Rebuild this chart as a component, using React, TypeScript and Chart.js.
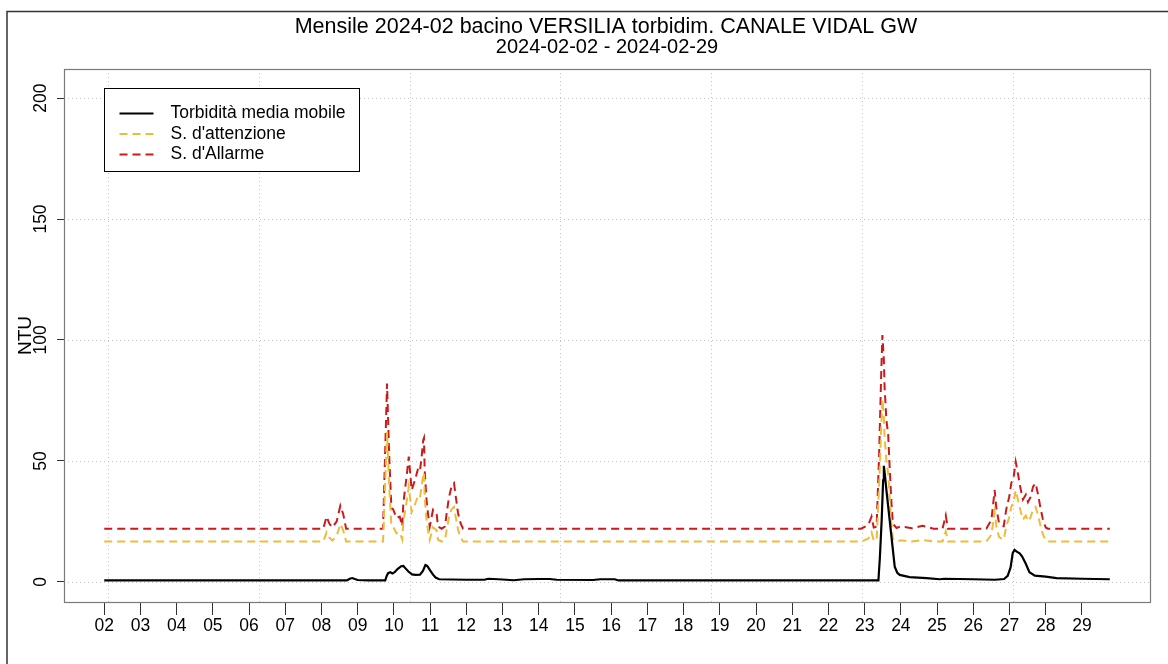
import React, { useEffect, useRef } from 'react';
import { Chart, registerables } from 'chart.js';

Chart.register(...registerables);

const FONT = '"Liberation Sans", Arial, Helvetica, sans-serif';

const titleMain = 'Mensile 2024-02 bacino VERSILIA torbidim. CANALE VIDAL GW';
const titleSub = '2024-02-02 - 2024-02-29';
const yAxisTitle = 'NTU';
const seriesNames = ['Torbidità media mobile', "S. d'attenzione", "S. d'Allarme"];

const dayTicks = [2, 3, 4, 5, 6, 7, 8, 9, 10, 11, 12, 13, 14, 15, 16, 17, 18, 19, 20, 21, 22, 23, 24, 25, 26, 27, 28, 29];
const dayLabels = ['02', '03', '04', '05', '06', '07', '08', '09', '10', '11', '12', '13', '14', '15', '16', '17', '18', '19', '20', '21', '22', '23', '24', '25', '26', '27', '28', '29'];
const yTicks = [0, 50, 100, 150, 200];
const gridDays = [2.1, 6.267, 10.433, 14.6, 18.767, 22.933, 27.1];

const turbDays = [
  2.0, 8.70, 8.78, 8.85, 8.92, 9.00, 9.30, 9.76, 9.80, 9.84,
  9.90, 9.96, 10.02, 10.10, 10.20, 10.26, 10.32, 10.40, 10.50, 10.60,
  10.72, 10.80, 10.87, 10.92, 10.99, 11.08, 11.15, 11.25, 11.60, 12.00,
  12.50, 12.60, 12.75, 13.00, 13.30, 13.60, 14.00, 14.30, 14.50, 15.50,
  15.70, 16.10, 16.20, 23.38, 23.42, 23.47, 23.51, 23.53, 23.56, 23.60,
  23.69, 23.77, 23.83, 23.90, 23.97, 24.24, 24.71, 25.07, 25.20, 25.60,
  26.00, 26.60, 26.85, 26.95, 27.03, 27.09, 27.14, 27.20, 27.28, 27.35,
  27.45, 27.55, 27.70, 28.00, 28.30, 29.00, 29.77,
];
const turbValues = [
  0.6, 0.6, 1.3, 1.6, 1.2, 0.8, 0.6, 0.6, 2.5, 3.6,
  4.0, 3.5, 4.0, 5.3, 6.5, 6.6, 5.6, 4.3, 3.1, 2.9,
  3.0, 4.5, 7.0, 6.6, 5.0, 3.0, 1.8, 1.1, 1.0, 0.9,
  0.9, 1.3, 1.2, 1.0, 0.7, 1.1, 1.2, 1.2, 0.9, 0.8,
  1.1, 1.1, 0.6, 0.6, 10.0, 25.6, 42.0, 48.0, 44.0, 38.0,
  25.6, 14.6, 6.3, 3.8, 2.9, 2.0, 1.6, 1.1, 1.3, 1.2,
  1.1, 0.9, 1.2, 2.5, 6.0, 12.0, 13.2, 12.5, 11.8, 10.5,
  7.5, 4.0, 2.6, 2.2, 1.6, 1.3, 1.1,
];

const thrDays = [
  2.00, 8.05, 8.14, 8.22, 8.30, 8.42, 8.52, 8.60, 8.68,
  9.70, 9.81, 9.84, 9.87, 9.91, 9.93, 9.98, 10.07, 10.16, 10.23,
  10.26, 10.35, 10.41, 10.46, 10.49, 10.58, 10.67, 10.72, 10.76, 10.81,
  10.83, 10.85, 10.90, 10.95, 10.99, 11.08, 11.18, 11.22, 11.32, 11.41,
  11.47, 11.52, 11.59, 11.66, 11.71, 11.77, 11.84, 11.91,
  22.90, 23.10, 23.19, 23.25, 23.33, 23.40, 23.46, 23.49, 23.53, 23.55,
  23.60, 23.65, 23.69, 23.74, 23.78, 23.88, 24.00, 24.30, 24.60, 24.90,
  25.15, 25.24, 25.30,
  26.36, 26.50, 26.54, 26.59, 26.64, 26.71, 26.78, 26.84,
  26.91, 26.99, 27.05, 27.12, 27.17, 27.23, 27.30, 27.37, 27.45, 27.51,
  27.58, 27.65, 27.72, 27.79, 27.85, 27.92, 28.00, 28.06, 29.77,
];
const allValues = [
  22.0, 22.0, 27.0, 24.0, 22.5, 25.0, 31.5, 28.0, 22.0,
  22.0, 82.0, 67.0, 52.0, 38.0, 30.5, 30.0, 26.4, 27.0, 23.0,
  32.5, 43.5, 51.8, 43.0, 38.0, 42.0, 47.0, 46.0, 51.0, 58.7,
  59.5, 46.0, 34.0, 27.0, 22.9, 29.8, 28.0, 22.9, 22.0, 22.9,
  29.8, 35.0, 39.4, 40.8, 35.0, 28.5, 24.3, 22.0,
  22.0, 23.5, 27.0, 22.5, 22.8, 53.0, 87.6, 102.0, 91.7, 80.7,
  67.0, 60.7, 47.6, 32.6, 24.0, 22.3, 23.0, 22.2, 23.2, 22.0,
  22.0, 27.5, 22.0,
  22.0, 25.6, 31.0, 38.0, 30.0, 24.5, 23.5, 23.0,
  30.0, 35.0, 40.8, 44.0, 49.7, 45.0, 39.0, 34.0, 36.0, 33.0,
  35.0, 39.4, 40.8, 36.0, 31.0, 26.0, 22.5, 22.0, 22.0,
];
const attValues = [
  16.7, 16.7, 20.5, 18.3, 17.1, 19.0, 24.0, 21.3, 16.7,
  16.7, 62.0, 51.0, 39.5, 29.0, 23.2, 22.8, 20.1, 20.5, 17.5,
  24.7, 33.0, 39.4, 32.7, 28.9, 32.0, 35.7, 35.0, 38.8, 44.6,
  45.2, 35.0, 25.8, 20.5, 17.4, 22.6, 21.3, 17.4, 16.7, 17.4,
  22.6, 26.6, 30.0, 31.0, 26.6, 21.7, 18.5, 16.7,
  16.7, 17.9, 20.5, 17.1, 17.3, 40.0, 65.0, 75.5, 68.0, 60.0,
  50.0, 45.0, 35.0, 24.1, 17.8, 16.7, 17.2, 16.7, 17.3, 16.7,
  16.7, 20.9, 16.7,
  16.7, 19.5, 23.6, 28.9, 22.8, 18.6, 17.9, 17.5,
  22.8, 26.6, 31.0, 33.4, 37.8, 34.2, 29.6, 25.8, 27.4, 25.1,
  26.6, 30.0, 31.0, 27.4, 23.6, 19.8, 17.1, 16.7, 16.7,
];

const toPoints = (xs: number[], ys: number[]) => xs.map((x, i) => ({ x, y: ys[i] }));

const framePlugin = {
  id: 'frame',
  beforeDraw(chart: any) {
    const ctx = chart.ctx;
    ctx.save();
    ctx.fillStyle = '#ffffff';
    ctx.fillRect(0, 0, chart.width, chart.height);
    ctx.strokeStyle = '#333333';
    ctx.lineWidth = 1.5;
    ctx.strokeRect(7, 11.5, chart.width + 40, chart.height + 40);
    ctx.restore();
  },
  beforeDatasetsDraw(chart: any) {
    const { ctx, chartArea: a, scales } = chart;
    const x = scales.x;
    const y = scales.y;
    ctx.save();
    ctx.strokeStyle = '#c4c4c4';
    ctx.lineWidth = 1;
    ctx.setLineDash([1, 3]);
    ctx.beginPath();
    for (const d of gridDays) {
      const px = Math.round(x.getPixelForValue(d)) + 0.5;
      ctx.moveTo(px, a.top);
      ctx.lineTo(px, a.bottom);
    }
    for (const v of yTicks) {
      const py = Math.round(y.getPixelForValue(v)) + 0.5;
      ctx.moveTo(a.left, py);
      ctx.lineTo(a.right, py);
    }
    ctx.stroke();
    ctx.restore();
  },
  afterDatasetsDraw(chart: any) {
    const { ctx, chartArea: a } = chart;
    ctx.save();
    // plot box
    ctx.strokeStyle = '#7a7a7a';
    ctx.lineWidth = 1.2;
    ctx.strokeRect(a.left + 0.5, a.top + 0.5, a.right - a.left, a.bottom - a.top);
    // legend
    const lx = a.left + 40.5;
    const ly = a.top + 19.5;
    ctx.fillStyle = '#ffffff';
    ctx.fillRect(lx, ly, 255, 83);
    ctx.strokeStyle = '#000000';
    ctx.lineWidth = 1;
    ctx.strokeRect(lx, ly, 255, 83);
    ctx.font = `17.5px ${FONT}`;
    ctx.textBaseline = 'middle';
    ctx.textAlign = 'left';
    chart.data.datasets.forEach((ds: any, i: number) => {
      const rowY = ly + 25 + i * 20.5;
      ctx.strokeStyle = ds.borderColor;
      ctx.lineWidth = 2;
      ctx.setLineDash(ds.borderDash || []);
      ctx.beginPath();
      ctx.moveTo(lx + 15, rowY);
      ctx.lineTo(lx + 49, rowY);
      ctx.stroke();
      ctx.setLineDash([]);
      ctx.fillStyle = '#000000';
      ctx.fillText(ds.label, lx + 66, rowY);
    });
    ctx.restore();
  },
  afterDraw(chart: any) {
    const { ctx, chartArea: a } = chart;
    ctx.save();
    ctx.fillStyle = '#000000';
    ctx.textAlign = 'center';
    ctx.textBaseline = 'middle';
    const cx = (a.left + a.right) / 2;
    ctx.font = `21.5px ${FONT}`;
    ctx.fillText(titleMain, cx - 1, 27);
    ctx.font = `20px ${FONT}`;
    ctx.fillText(titleSub, cx, 47);
    ctx.restore();
  },
};

export default function App() {
  const ref = useRef<HTMLCanvasElement>(null);
  useEffect(() => {
    document.body.style.margin = '0';
    const canvas = ref.current;
    if (!canvas) return;
    const chart = new Chart(canvas, {
      type: 'line',
      data: {
        datasets: [
          {
            label: seriesNames[0],
            data: toPoints(turbDays, turbValues),
            borderColor: '#000000',
            borderWidth: 2.2,
            pointRadius: 0,
            tension: 0,
          },
          {
            label: seriesNames[1],
            data: toPoints(thrDays, attValues),
            borderColor: '#EDBC3A',
            borderWidth: 2,
            borderDash: [8, 5],
            pointRadius: 0,
            tension: 0,
          },
          {
            label: seriesNames[2],
            data: toPoints(thrDays, allValues),
            borderColor: '#CC1A1A',
            borderWidth: 2,
            borderDash: [8, 5],
            pointRadius: 0,
            tension: 0,
          },
        ],
      },
      options: {
        responsive: false,
        animation: false,
        devicePixelRatio: 1,
        parsing: false as any,
        layout: { padding: { top: 69, right: 18, left: 0, bottom: 0 } },
        plugins: {
          legend: { display: false },
          title: { display: false },
          tooltip: { enabled: false },
        },
        scales: {
          x: {
            type: 'linear',
            min: 0.889,
            max: 30.88,
            afterBuildTicks: (scale: any) => {
              scale.ticks = dayTicks.map((v) => ({ value: v }));
            },
            afterFit: (scale: any) => {
              scale.height = 62;
            },
            ticks: {
              autoSkip: false,
              maxRotation: 0,
              minRotation: 0,
              padding: 1,
              color: '#000000',
              font: { family: FONT, size: 17.5 },
              callback: (v: any) => dayLabels[dayTicks.indexOf(Number(v))] ?? '',
            },
            grid: {
              drawOnChartArea: false,
              drawTicks: true,
              tickLength: 13,
              color: '#333333',
              lineWidth: 1,
            },
            border: { display: false },
          },
          y: {
            type: 'linear',
            min: -8.3,
            max: 212,
            afterBuildTicks: (scale: any) => {
              scale.ticks = yTicks.map((v) => ({ value: v }));
            },
            afterFit: (scale: any) => {
              scale.width = 64;
            },
            ticks: {
              minRotation: 90,
              maxRotation: 90,
              crossAlign: 'center',
              padding: 1,
              color: '#000000',
              font: { family: FONT, size: 17.5 },
            },
            grid: {
              drawOnChartArea: false,
              drawTicks: true,
              tickLength: 7,
              color: '#333333',
              lineWidth: 1,
            },
            border: { display: false },
            title: {
              display: true,
              text: yAxisTitle,
              color: '#000000',
              font: { family: FONT, size: 19 },
              padding: { top: 14, bottom: 0 },
            },
          },
        },
      },
      plugins: [framePlugin],
    });
    return () => chart.destroy();
  }, []);
  return (
    <div style={{ position: 'relative', width: 1168, height: 664 }}>
      <canvas ref={ref} width={1168} height={664} style={{ display: 'block' }} />
    </div>
  );
}
